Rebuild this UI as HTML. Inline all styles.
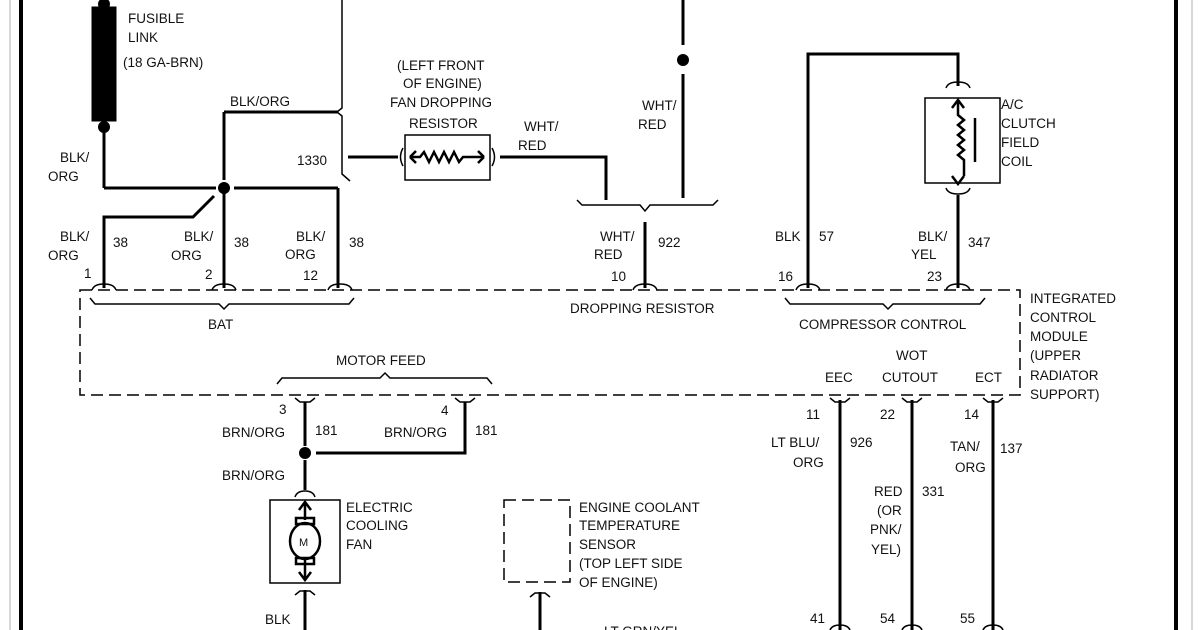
<!DOCTYPE html>
<html><head><meta charset="utf-8"><style>
html,body{margin:0;padding:0;background:#fff;}
svg{display:block;}
text{font-family:"Liberation Sans",sans-serif;font-size:13.5px;fill:#111;}
</style></head><body>
<svg width="1200" height="630" viewBox="0 0 1200 630" xmlns="http://www.w3.org/2000/svg">
<rect width="1200" height="630" fill="#fff"/>
<!-- borders -->
<line x1="10" y1="0" x2="10" y2="630" stroke="#ccc" stroke-width="1.5"/>
<line x1="21" y1="0" x2="21" y2="630" stroke="#000" stroke-width="4"/>
<line x1="1176" y1="0" x2="1176" y2="630" stroke="#000" stroke-width="4"/>
<line x1="1192" y1="0" x2="1192" y2="630" stroke="#ccc" stroke-width="1.5"/>

<g stroke="#000" stroke-width="3" fill="none">
<!-- fusible link -->
<rect x="93" y="8" width="22" height="112" fill="#000"/>
<line x1="104" y1="128" x2="104" y2="188"/>
<line x1="104" y1="188" x2="216" y2="188"/>
<line x1="234" y1="188" x2="338" y2="188"/>
<line x1="338" y1="188" x2="338" y2="288"/>
<line x1="224" y1="188" x2="224" y2="288"/>
<polyline points="224,112 224,112 338,112"/>
<line x1="224" y1="112" x2="224" y2="180"/>
<polyline points="214,196 193,217 104,217 104,288"/>
<!-- 1330 -->
<line x1="348" y1="157" x2="398" y2="157"/>
<polyline points="500,157 606,157 606,200"/>
<line x1="683" y1="0" x2="683" y2="45"/>
<line x1="683" y1="74" x2="683" y2="198"/>
<line x1="645" y1="222" x2="645" y2="288"/>
<!-- compressor -->
<polyline points="808,288 808,54 958,54 958,86"/>
<line x1="958" y1="195" x2="958" y2="288"/>
<!-- motor feed -->
<line x1="305" y1="402" x2="305" y2="446"/>
<polyline points="316,453 465,453 465,402"/>
<line x1="305" y1="460" x2="305" y2="490"/>
<line x1="305" y1="590" x2="305" y2="630"/>
<line x1="540" y1="592" x2="540" y2="630"/>
<line x1="840" y1="400" x2="840" y2="630"/>
<line x1="912" y1="400" x2="912" y2="630"/>
<line x1="993" y1="400" x2="993" y2="630"/>
</g>
<g fill="#000">
<circle cx="104" cy="4" r="6"/><circle cx="104" cy="127" r="6"/>
<circle cx="224" cy="188" r="6"/><circle cx="683" cy="60" r="6"/>
<circle cx="305" cy="453" r="6"/>
</g>
<g stroke="#000" stroke-width="1.5" fill="none">
<!-- 1330 long line with notch -->
<polyline points="342,0 342,108 337,112 342,116 342,174 350,181"/>
<!-- module dashed -->
<path d="M80,290 H1020 V395 H80 Z" stroke-dasharray="12,6"/>
<!-- cups top -->
<path d="M92,290 q2,-6 12,-6 q10,0 12,6"/>
<path d="M212,290 q2,-6 12,-6 q10,0 12,6"/>
<path d="M328,290 q2,-6 12,-6 q10,0 12,6"/>
<path d="M633,290 q2,-6 12,-6 q10,0 12,6"/>
<path d="M796,290 q2,-6 12,-6 q10,0 12,6"/>
<path d="M946,290 q2,-6 12,-6 q10,0 12,6"/>
<!-- braces -->
<path d="M90,298 l5,6 H219 l5,5 l5,-5 H349 l5,-6"/>
<path d="M785,298 l5,6 H883 l5,5 l5,-5 H980 l5,-6"/>
<path d="M577,200 l5,5 H640 l5,6 l5,-6 H713 l5,-5"/>
<path d="M277,384 l5,-6 H380 l5,-5 l5,5 H487 l5,6"/>
<!-- Y connectors bottom -->
<path d="M295,398 l5,4 h10 l5,-4"/>
<path d="M455,398 l5,4 h10 l5,-4"/>
<path d="M830,398 l5,4 h10 l5,-4"/>
<path d="M902,398 l5,4 h10 l5,-4"/>
<path d="M983,398 l5,4 h10 l5,-4"/>
<path d="M295,497 q2,-6 10,-6 q8,0 10,6"/>
<path d="M295,595 l5,-4 h10 l5,4"/>
<path d="M530,597 l5,-4 h10 l5,4"/>
<path d="M946,88 q2,-6 12,-6 q10,0 12,6"/>
<path d="M946,188 q2,6 12,6 q10,0 12,-6"/>
<!-- resistor -->
<rect x="405" y="135" width="85" height="45"/>
<path d="M403,148 q-5,9 0,18"/><path d="M492,148 q5,9 0,18"/>
<!-- coil box -->
<rect x="925" y="98" width="75" height="85"/>
<!-- fan box -->
<rect x="270" y="500" width="70" height="83"/>
<!-- sensor dashed -->
<path d="M504,500 H570 V582 H504 Z" stroke-dasharray="12,6"/>
</g>
<g stroke="#000" stroke-width="2.5" fill="none">
<path d="M410,157 l6,-6 M410,157 l6,6 M410,157 H420 l4,-5 l5,10 l5,-10 l5,10 l5,-10 l5,10 l5,-10 l5,10 l4,-5 H484 M484,157 l-6,-6 M484,157 l-6,6"/>
<path d="M958,100 v15 l6,5 l-6,5 l6,5 l-6,5 l6,5 l-6,5 l6,5 l-6,5 l6,5 v16 M952,108 l6,-8 l6,8 M952,176 l6,8 l6,-8"/>
<line x1="975" y1="118" x2="975" y2="162"/>
<path d="M305,502 v18 M299,510 l6,-8 l6,8 M305,560 v20 M299,572 l6,8 l6,-8"/>
<ellipse cx="305" cy="541" rx="15" ry="18"/>
<rect x="296" y="518" width="18" height="6"/><rect x="296" y="558" width="18" height="6"/>
</g>
<g>
<text x="128" y="23">FUSIBLE</text><text x="128" y="42">LINK</text>
<text x="123" y="67">(18 GA-BRN)</text>
<text x="230" y="106">BLK/ORG</text>
<text x="60" y="162">BLK/</text><text x="48" y="181">ORG</text>
<text x="297" y="165">1330</text>
<text x="60" y="241">BLK/</text><text x="48" y="260">ORG</text><text x="113" y="247">38</text>
<text x="184" y="241">BLK/</text><text x="171" y="260">ORG</text><text x="234" y="247">38</text>
<text x="296" y="241">BLK/</text><text x="285" y="259">ORG</text><text x="349" y="247">38</text>
<text x="84" y="278">1</text><text x="205" y="279">2</text><text x="303" y="280">12</text>
<text x="208" y="329">BAT</text>
<text x="397" y="70">(LEFT FRONT</text><text x="403" y="88">OF ENGINE)</text>
<text x="390" y="107">FAN DROPPING</text><text x="409" y="128">RESISTOR</text>
<text x="524" y="131">WHT/</text><text x="518" y="150">RED</text>
<text x="642" y="110">WHT/</text><text x="638" y="129">RED</text>
<text x="600" y="241">WHT/</text><text x="594" y="259">RED</text><text x="658" y="247">922</text>
<text x="611" y="281">10</text>
<text x="570" y="313">DROPPING RESISTOR</text>
<text x="775" y="241">BLK</text><text x="819" y="241">57</text>
<text x="918" y="241">BLK/</text><text x="911" y="259">YEL</text><text x="968" y="247">347</text>
<text x="778" y="281">16</text><text x="927" y="281">23</text>
<text x="1001" y="109">A/C</text><text x="1001" y="128">CLUTCH</text>
<text x="1001" y="147">FIELD</text><text x="1001" y="166">COIL</text>
<text x="799" y="329">COMPRESSOR CONTROL</text>
<text x="1030" y="303">INTEGRATED</text><text x="1030" y="322">CONTROL</text>
<text x="1030" y="341">MODULE</text><text x="1030" y="360">(UPPER</text>
<text x="1030" y="380">RADIATOR</text><text x="1030" y="399">SUPPORT)</text>
<text x="336" y="365">MOTOR FEED</text>
<text x="896" y="360">WOT</text>
<text x="825" y="382">EEC</text><text x="882" y="382">CUTOUT</text><text x="975" y="382">ECT</text>
<text x="279" y="414">3</text><text x="441" y="415">4</text>
<text x="222" y="437">BRN/ORG</text><text x="315" y="435">181</text>
<text x="384" y="437">BRN/ORG</text><text x="475" y="435">181</text>
<text x="222" y="480">BRN/ORG</text>
<text x="346" y="512">ELECTRIC</text><text x="346" y="530">COOLING</text><text x="346" y="549">FAN</text>
<text x="299" y="546" style="font-size:11px">M</text>
<text x="579" y="512">ENGINE COOLANT</text><text x="579" y="530">TEMPERATURE</text>
<text x="579" y="549">SENSOR</text><text x="579" y="568">(TOP LEFT SIDE</text>
<text x="579" y="587">OF ENGINE)</text>
<text x="265" y="624">BLK</text>
<text x="604" y="636">LT GRN/YEL</text>
<text x="806" y="419">11</text><text x="880" y="419">22</text><text x="964" y="419">14</text>
<text x="771" y="447">LT BLU/</text><text x="793" y="467">ORG</text><text x="850" y="447">926</text>
<text x="874" y="496">RED</text><text x="877" y="515">(OR</text><text x="870" y="534">PNK/</text><text x="871" y="554">YEL)</text>
<text x="922" y="496">331</text>
<text x="950" y="451">TAN/</text><text x="955" y="472">ORG</text><text x="1000" y="453">137</text>
<text x="810" y="623">41</text><text x="880" y="623">54</text><text x="960" y="623">55</text>
</g>
<g stroke="#000" stroke-width="1.5" fill="none">
<path d="M830,630 q2,-5 10,-5 q8,0 10,5"/><path d="M902,630 q2,-5 10,-5 q8,0 10,5"/><path d="M983,630 q2,-5 10,-5 q8,0 10,5"/>
</g>
</svg>
</body></html>
